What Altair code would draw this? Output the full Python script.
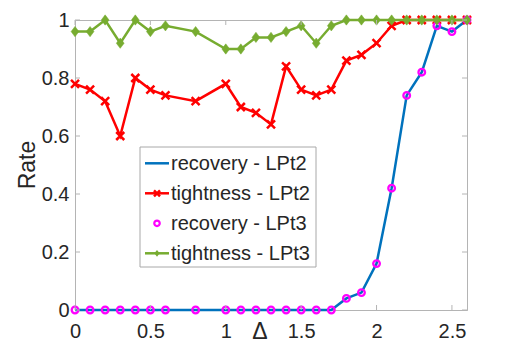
import altair as alt
import pandas as pd

delta = [0, 0.1, 0.2, 0.3, 0.4, 0.5, 0.6, 0.8, 1.0, 1.1, 1.2, 1.3, 1.4,
         1.5, 1.6, 1.7, 1.8, 1.9, 2.0, 2.1, 2.2, 2.3, 2.4, 2.5, 2.6]
recovery_lpt2 = [0, 0, 0, 0, 0, 0, 0, 0, 0, 0, 0, 0, 0,
                 0, 0, 0, 0.04, 0.06, 0.16, 0.42, 0.74, 0.82, 0.98, 0.96, 1.0]
tightness_lpt2 = [0.78, 0.76, 0.72, 0.60, 0.80, 0.76, 0.74, 0.72, 0.78, 0.70, 0.68, 0.64, 0.84,
                  0.76, 0.74, 0.76, 0.86, 0.88, 0.92, 0.98, 1.0, 1.0, 1.0, 1.0, 1.0]
recovery_lpt3 = [0, 0, 0, 0, 0, 0, 0, 0, 0, 0, 0, 0, 0,
                 0, 0, 0, 0.04, 0.06, 0.16, 0.42, 0.74, 0.82, 0.98, 0.96, 1.0]
tightness_lpt3 = [0.96, 0.96, 1.0, 0.92, 1.0, 0.96, 0.98, 0.96, 0.90, 0.90, 0.94, 0.94, 0.96,
                  0.98, 0.92, 0.98, 1.0, 1.0, 1.0, 1.0, 1.0, 1.0, 1.0, 1.0, 1.0]

x_ticks = [0, 0.5, 1, 1.5, 2, 2.5]
y_ticks = [0, 0.2, 0.4, 0.6, 0.8, 1.0]
legend_labels = ["recovery - LPt2", "tightness - LPt2", "recovery - LPt3", "tightness - LPt3"]
x_title = "Δ"
y_title = "Rate"

BLUE = "#0072BD"
RED = "#FF0000"
MAGENTA = "#FF00FF"
GREEN = "#77AC30"
AXIS_GRAY = "#b4b4b4"
TEXT = "#262626"
FONT = "Liberation Sans"
W, H = 392, 290
XSHAPE = "M-1,-1L1,1M-1,1L1,-1"
DIAMOND = "M0,-1.25L0.95,0L0,1.25L-0.95,0Z"

xs = alt.Scale(domain=[0, 2.6], nice=False, zero=False)
ys = alt.Scale(domain=[0, 1], nice=False, zero=False)

def frame(vals):
    return pd.DataFrame({"delta": delta, "rate": vals})

X = alt.X("delta:Q", scale=xs, axis=alt.Axis(values=x_ticks, format=".1~f", title=None, labelFlush=False))
Y = alt.Y("rate:Q", scale=ys, axis=alt.Axis(values=y_ticks, format=".1~f", title=None, labelFlush=False))

rec2 = alt.Chart(frame(recovery_lpt2)).mark_line(color=BLUE, strokeWidth=2.5).encode(x=X, y=Y)
tig2_line = alt.Chart(frame(tightness_lpt2)).mark_line(color=RED, strokeWidth=2.5).encode(x="delta:Q", y="rate:Q")
tig2_pts = alt.Chart(frame(tightness_lpt2)).mark_point(shape=XSHAPE, size=64, stroke=RED, strokeWidth=2.5,
                                                       filled=False, opacity=1).encode(x="delta:Q", y="rate:Q")
rec3 = alt.Chart(frame(recovery_lpt3)).mark_point(shape="circle", size=44, stroke=MAGENTA, strokeWidth=2.3,
                                                  filled=False, opacity=1).encode(x="delta:Q", y="rate:Q")
tig3_line = alt.Chart(frame(tightness_lpt3)).mark_line(color=GREEN, strokeWidth=2.5).encode(x="delta:Q", y="rate:Q")
tig3_pts = alt.Chart(frame(tightness_lpt3)).mark_point(shape=DIAMOND, size=68, fill=GREEN, filled=True,
                                                       stroke=GREEN, strokeWidth=0.5,
                                                       opacity=1).encode(x="delta:Q", y="rate:Q")

xt = pd.DataFrame({"delta": x_ticks})
yt = pd.DataFrame({"rate": y_ticks})
tick_bottom = alt.Chart(xt).mark_rule(color=AXIS_GRAY, strokeWidth=1).encode(x="delta:Q", y=alt.value(H), y2=alt.value(H - 5))
tick_top = alt.Chart(xt).mark_rule(color=AXIS_GRAY, strokeWidth=1).encode(x="delta:Q", y=alt.value(0), y2=alt.value(5))
tick_left = alt.Chart(yt).mark_rule(color=AXIS_GRAY, strokeWidth=1).encode(y="rate:Q", x=alt.value(0), x2=alt.value(5))
tick_right = alt.Chart(yt).mark_rule(color=AXIS_GRAY, strokeWidth=1).encode(y="rate:Q", x=alt.value(W), x2=alt.value(W - 5))

# Axis titles (as text so their placement matches MATLAB's)
ytitle = alt.Chart(pd.DataFrame({"t": [y_title]})).mark_text(
    angle=270, align="center", baseline="middle", font=FONT, fontSize=23, color=TEXT).encode(
    text="t:N", x=alt.value(-47), y=alt.value(145))
xtitle = alt.Chart(pd.DataFrame({"t": [x_title]})).mark_text(
    align="center", baseline="middle", font=FONT, fontSize=23, color=TEXT).encode(
    text="t:N", x=alt.value(185), y=alt.value(H + 22))

# Legend (decoration)
one = pd.DataFrame({"k": [0]})
lx0, lx1, ly0, ly1 = 65, 241, 127, 247
rows = [143.3, 173.3, 203.3, 233.3]
leg = [alt.Chart(one).mark_rect(fill="white", stroke="#a8a8a8", strokeWidth=1).encode(
    x=alt.value(lx0), x2=alt.value(lx1), y=alt.value(ly0), y2=alt.value(ly1))]
for i, lab in enumerate(legend_labels):
    ry = rows[i]
    if i in (0, 1, 3):
        col = [BLUE, RED, None, GREEN][i]
        leg.append(alt.Chart(one).mark_rule(color=col, strokeWidth=2.5).encode(
            x=alt.value(70), x2=alt.value(94), y=alt.value(ry)))
    if i == 1:
        leg.append(alt.Chart(one).mark_point(shape=XSHAPE, size=36, stroke=RED, strokeWidth=2.5, filled=False,
                                             opacity=1).encode(x=alt.value(82), y=alt.value(ry)))
    if i == 2:
        leg.append(alt.Chart(one).mark_point(shape="circle", size=30, stroke=MAGENTA, strokeWidth=2.2,
                                             filled=False, opacity=1).encode(x=alt.value(82), y=alt.value(ry)))
    if i == 3:
        leg.append(alt.Chart(one).mark_point(shape=DIAMOND, size=30, fill=GREEN,
                                             filled=True, opacity=1).encode(x=alt.value(82), y=alt.value(ry)))
    leg.append(alt.Chart(pd.DataFrame({"t": [lab]})).mark_text(
        align="left", baseline="middle", font=FONT, fontSize=20, color=TEXT).encode(
        text="t:N", x=alt.value(96), y=alt.value(ry + 1)))

chart = alt.layer(
    rec2, tig2_line, tig2_pts, rec3, tig3_line, tig3_pts,
    tick_bottom, tick_top, tick_left, tick_right, ytitle, xtitle, *leg
).properties(
    width=W, height=H,
    autosize=alt.AutoSizeParams(type="none"),
    padding={"left": 67, "top": 12, "right": 25, "bottom": 36},
).configure_view(
    stroke=AXIS_GRAY, strokeWidth=1
).configure_axis(
    grid=False, ticks=False, domainColor=AXIS_GRAY, domainWidth=1,
    labelFont=FONT, labelFontSize=20, labelColor=TEXT,
).configure_axisX(
    labelPadding=11
).configure_axisY(
    labelPadding=6
)

chart.save("out.html", embed_options={"renderer": "svg", "actions": False})
